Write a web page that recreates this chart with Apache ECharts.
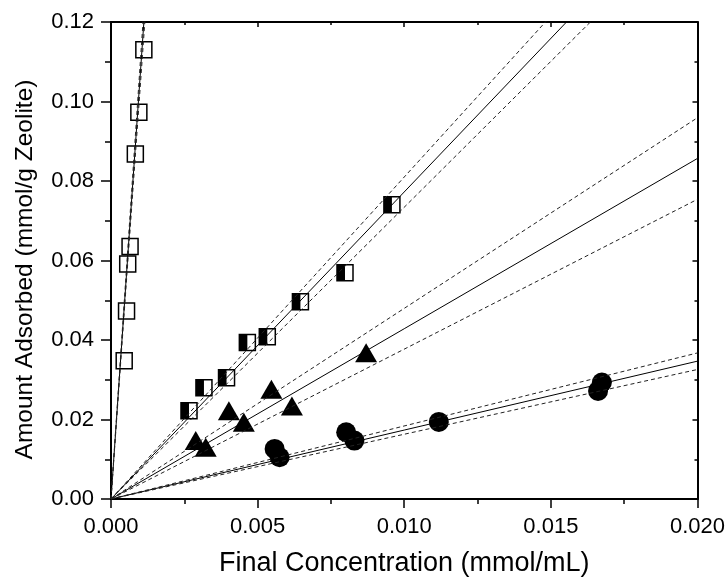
<!DOCTYPE html>
<html>
<head>
<meta charset="utf-8">
<script src="https://cdn.jsdelivr.net/npm/echarts@6/dist/echarts.min.js"></script>
<style>
  html, body { margin: 0; padding: 0; background: #fff; }
  #chart { width: 728px; height: 582px; }
</style>
</head>
<body>
<div id="chart"></div>
<script>
// measured points [x, y]
const openSquares = [
  [0.00045, 0.0348], [0.00053, 0.0473], [0.00057, 0.0591], [0.00065, 0.0635],
  [0.00083, 0.0868], [0.00095, 0.0973], [0.00112, 0.1130]
];
const halfSquares = [
  [0.00266, 0.0222], [0.00317, 0.0280], [0.00394, 0.0305], [0.00465, 0.0394],
  [0.00533, 0.0408], [0.00646, 0.0496], [0.00798, 0.0569], [0.00958, 0.0740]
];
const triangles = [
  [0.00289, 0.0147], [0.00323, 0.0130], [0.00402, 0.0222], [0.00453, 0.0193],
  [0.00547, 0.0276], [0.00617, 0.0234], [0.00870, 0.0368]
];
const circles = [
  [0.00558, 0.0126], [0.00575, 0.0105], [0.00802, 0.0168], [0.00830, 0.0147],
  [0.01118, 0.0194], [0.01661, 0.0272], [0.01674, 0.0293]
];

// fitted slopes through origin (open sq, half sq, triangles, circles)
const fitSlope = [107.0, 7.725, 4.284, 1.734];
const upperSlope = [110.0, 8.10, 4.796, 1.8375];
const lowerSlope = [104.0, 7.34, 3.77, 1.629];

const xTicks = { min: 0, max: 0.02, interval: 0.005 };
const yTicks = { min: 0, max: 0.12, interval: 0.02 };

const font = 'Liberation Sans, Arial, Helvetica, sans-serif';
const chart = echarts.init(document.getElementById('chart'), null, { renderer: 'canvas' });

const lineThrough = (slope) => [[0, 0], [xTicks.max, xTicks.max * slope]];

const fitLines = [];
[fitSlope, upperSlope, lowerSlope].forEach((arr, k) => {
  arr.forEach(s => {
    fitLines.push({
      type: 'line',
      data: lineThrough(s),
      symbol: 'none',
      silent: true,
      clip: true,
      lineStyle: k === 0
        ? { color: '#000', width: 1, type: 'solid' }
        : { color: '#222', width: 1, type: [4, 3] },
      z: 3
    });
  });
});

const option = {
  backgroundColor: '#fff',
  animation: false,
  grid: { left: 111, right: 29, top: 22, bottom: 80, containLabel: false },
  xAxis: [
    {
      type: 'value', position: 'bottom',
      min: xTicks.min, max: xTicks.max, interval: xTicks.interval,
      name: 'Final Concentration (mmol/mL)',
      nameLocation: 'middle', nameGap: 51,
      nameTextStyle: { fontFamily: font, fontSize: 27, color: '#000' },
      axisLine: { onZero: false, lineStyle: { color: '#000', width: 2 } },
      axisTick: { inside: false, length: 9, lineStyle: { color: '#000', width: 1.5 } },
      minorTick: { show: true, splitNumber: 2, length: 5, lineStyle: { color: '#000', width: 1.5 } },
      axisLabel: { fontFamily: font, fontSize: 22, color: '#000', margin: 17,
        formatter: v => v.toFixed(3) },
      splitLine: { show: false }
    },
    {
      type: 'value', position: 'top',
      min: xTicks.min, max: xTicks.max, interval: xTicks.interval,
      axisLine: { onZero: false, lineStyle: { color: '#000', width: 2 } },
      axisTick: { inside: true, length: 5, lineStyle: { color: '#000', width: 1.5 } },
      minorTick: { show: true, splitNumber: 2, length: 3, lineStyle: { color: '#000', width: 1.5 } },
      axisLabel: { show: false },
      splitLine: { show: false }
    }
  ],
  yAxis: [
    {
      type: 'value', position: 'left',
      min: yTicks.min, max: yTicks.max, interval: yTicks.interval,
      name: 'Amount Adsorbed (mmol/g Zeolite)',
      nameLocation: 'middle', nameGap: 73,
      nameTextStyle: { fontFamily: font, fontSize: 24.5, color: '#000', padding: [0, 18, 0, 0] },
      axisLine: { onZero: false, lineStyle: { color: '#000', width: 2 } },
      axisTick: { inside: false, length: 10, lineStyle: { color: '#000', width: 1.5 } },
      minorTick: { show: true, splitNumber: 2, length: 6, lineStyle: { color: '#000', width: 1.5 } },
      axisLabel: { fontFamily: font, fontSize: 22, color: '#000', margin: 17,
        formatter: v => v.toFixed(2) },
      splitLine: { show: false }
    },
    {
      type: 'value', position: 'right',
      min: yTicks.min, max: yTicks.max, interval: yTicks.interval,
      axisLine: { onZero: false, lineStyle: { color: '#000', width: 2 } },
      axisTick: { inside: true, length: 5, lineStyle: { color: '#000', width: 1.5 } },
      minorTick: { show: true, splitNumber: 2, length: 3, lineStyle: { color: '#000', width: 1.5 } },
      axisLabel: { show: false },
      splitLine: { show: false }
    }
  ],
  series: [
    {
      type: 'scatter', data: openSquares, symbol: 'rect', symbolSize: 16,
      itemStyle: { color: '#fff', borderColor: '#000', borderWidth: 1.5, opacity: 1 }, z: 2
    },
    {
      type: 'scatter', data: halfSquares, symbol: 'rect', symbolSize: 16,
      itemStyle: { color: '#fff', borderColor: '#000', borderWidth: 1.5, opacity: 1 }, z: 2
    },
    {
      // black left half of the half-filled squares
      type: 'scatter', data: halfSquares, symbol: 'rect', symbolSize: [8, 16], symbolOffset: [-4, 0],
      itemStyle: { color: '#000', opacity: 1 }, z: 2
    },
    {
      type: 'scatter', data: triangles, symbol: 'triangle', symbolSize: [22, 19],
      itemStyle: { color: '#000', opacity: 1 }, z: 2
    },
    {
      type: 'scatter', data: circles, symbol: 'circle', symbolSize: 20,
      itemStyle: { color: '#000', opacity: 1 }, z: 2
    },
    ...fitLines
  ]
};

chart.setOption(option);
</script>
</body>
</html>
